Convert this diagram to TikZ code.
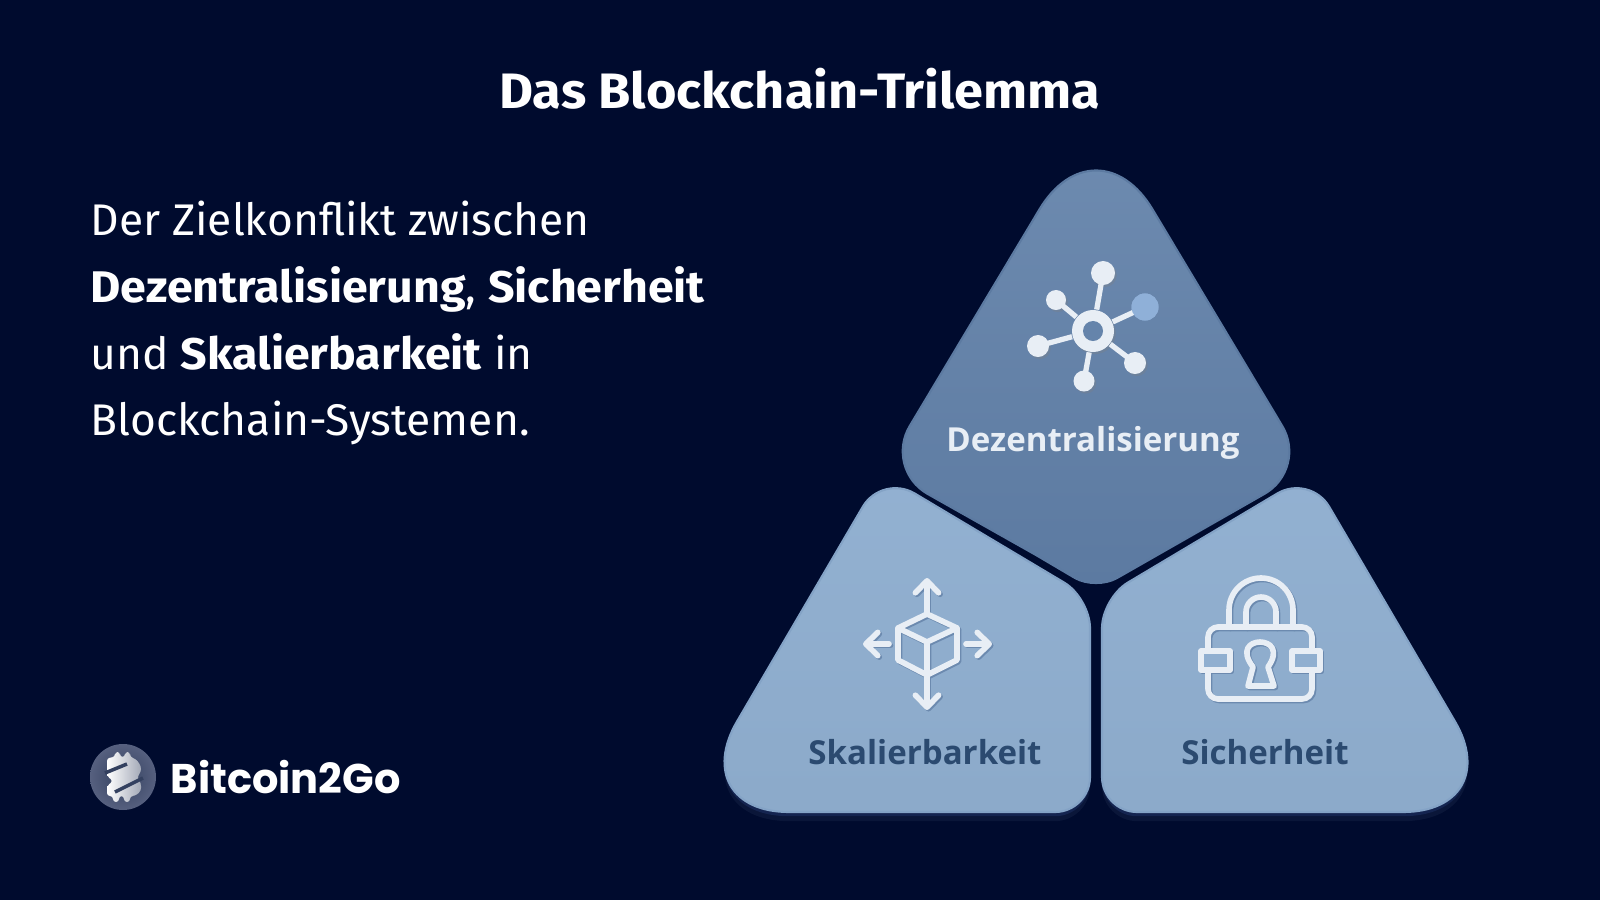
\documentclass[tikz,border=0pt]{standalone}
\usepackage{fontspec}
\usepackage{xcolor}
\setmainfont{Fira Sans}[BoldFeatures={FakeStretch=1.05}]
\newfontfamily\labelfont{Open Sans}
\newfontfamily\logofont{Poppins}
\usetikzlibrary{arrows.meta,calc,shadows}
\definecolor{pagebg}{HTML}{000B2E}
\definecolor{topface}{HTML}{6584AB}
\definecolor{topedge}{HTML}{5C7AA1}
\definecolor{lowface}{HTML}{90AFD0}
\definecolor{lowedge}{HTML}{84A3C6}
\definecolor{iconwhite}{HTML}{E8EEF5}
\definecolor{hublue}{HTML}{8FB0D8}
\definecolor{labeldark}{HTML}{2B4A70}
\definecolor{logoinner}{HTML}{33405F}
\definecolor{logoouter}{HTML}{56607F}
\definecolor{tileglow}{HTML}{0A1639}
\definecolor{tileglowB}{HTML}{142450}
% one soft corner: previous point, vertex, next point, tangent length
\newcommand{\softcorner}[4]{-- ($(#2)!#4!(#1)$) .. controls ($(#2)!#4*0.45!(#1)$) and ($(#2)!#4*0.45!(#3)$) .. ($(#2)!#4!(#3)$) }
\tikzset{
	toptile/.style={draw=topedge,line width=0.6pt,top color=topface!95!white,bottom color=topedge},
	lowtile/.style={draw=lowedge,line width=0.6pt,top color=lowface!98!white,bottom color=lowface!97!black,
		preaction={transform canvas={yshift=-2.6pt},fill=tileglow},
		preaction={transform canvas={yshift=-1.2pt},fill=tileglowB}},
	textline/.style={anchor=base west,font=\fontsize{12.6}{15}\selectfont,text=white,inner sep=0pt},
	tilelabel/.style={font=\fontsize{9.4}{12}\selectfont\labelfont\bfseries},
	netdot/.style={circle,fill=iconwhite,inner sep=0pt,drop shadow={shadow xshift=0.5pt,shadow yshift=-0.6pt,opacity=0.3}},
	netline/.style={draw=iconwhite,line width=1.5pt,shorten >=-1pt},
	iconline/.style={line width=1.6pt,line cap=round,line join=round},
	barb/.style={-{Straight Barb[length=3.4pt,width=6.6pt,round]}}
}
\begin{document}
\begin{tikzpicture}[x=0.01cm,y=-0.01cm]
	\useasboundingbox (0,0) rectangle (1600,900);
	\fill[pagebg] (0,0) rectangle (1600,900);
	% tile corners
	\coordinate (ta) at (1096,115);
	\coordinate (tl) at (884,469);
	\coordinate (tr) at (1308,469);
	\coordinate (tb) at (1096,590);
	\coordinate (la) at (882,474);
	\coordinate (lc) at (1090,598);
	\coordinate (ld) at (1090,812);
	\coordinate (lb) at (684,812);
	\coordinate (ra) at (1310,474);
	\coordinate (rc) at (1102,598);
	\coordinate (rd) at (1102,812);
	\coordinate (rb) at (1508,812);
	% tiles
	\draw[toptile] (1036,555) \softcorner{tb}{tl}{ta}{0.5cm} \softcorner{tl}{ta}{tr}{1.1cm} \softcorner{ta}{tr}{tb}{0.5cm} \softcorner{tr}{tb}{tl}{0.24cm} -- cycle;
	\draw[lowtile] (900,812) \softcorner{ld}{lb}{la}{1.05cm} \softcorner{lb}{la}{lc}{0.38cm} \softcorner{la}{lc}{ld}{0.3cm} \softcorner{lc}{ld}{lb}{0.35cm} -- cycle;
	\draw[lowtile] (1300,812) \softcorner{rd}{rb}{ra}{1.05cm} \softcorner{rb}{ra}{rc}{0.38cm} \softcorner{ra}{rc}{rd}{0.3cm} \softcorner{rc}{rd}{rb}{0.35cm} -- cycle;
	% heading and text
	\node[font=\fontsize{14.15}{16}\selectfont\bfseries,text=white] (heading) at (800,89) {Das Blockchain-Trilemma};
	\node[textline] (line1) at (90,235) {Der Zielkonflikt zwischen};
	\node[textline] (line2) at (90,302) {\textbf{Dezentralisierung}, \textbf{Sicherheit}};
	\node[textline] (line3) at (90,369) {und \textbf{Skalierbarkeit} in};
	\node[textline] (line4) at (90,435) {Blockchain-Systemen.};
	% tile labels
	\node[tilelabel,text=iconwhite] (dezlabel) at (1093,443) {Dezentralisierung};
	\node[tilelabel,text=labeldark] (skalabel) at (925,752) {Skalierbarkeit};
	\node[tilelabel,text=labeldark] (siclabel) at (1265,752) {Sicherheit};
	% network icon
	\node[netdot,minimum size=0.42cm] (hub) at (1093,331) {};
	\node[netdot,minimum size=0.24cm] (n1) at (1103,273) {};
	\node[netdot,minimum size=0.2cm] (n2) at (1056,300) {};
	\node[netdot,minimum size=0.22cm] (n3) at (1038,346) {};
	\node[netdot,minimum size=0.21cm] (n4) at (1084,381) {};
	\node[netdot,minimum size=0.22cm] (n5) at (1135,363) {};
	\node[circle,fill=hublue,inner sep=0pt,minimum size=0.27cm] (n6) at (1145,307) {};
	\foreach \n in {n1,n2,n3,n4,n5,n6}
		\draw[netline] (hub) -- (\n);
	\node[circle,fill=hublue,inner sep=0pt,minimum size=0.27cm] at (n6) {};
	\node[circle,fill=topface,inner sep=0pt,minimum size=0.2cm] (hole) at (hub) {};
	% cube icon
	\foreach \col/\off in {topedge!70!lowface/1.5,iconwhite/0} {
		\begin{scope}[shift={(\off,\off)},iconline,draw=\col]
			\draw (927,614) -- (957,628) -- (957,660) -- (927,675) -- (898,660) -- (898,628) -- cycle;
			\draw (898,628) -- (927,642) -- (957,628) (927,642) -- (927,675);
			\draw[barb] (927,612) -- (927,578);
			\draw[barb] (927,677) -- (927,710);
			\draw[barb] (889,644) -- (863,644);
			\draw[barb] (966,644) -- (992,644);
		\end{scope}
	}
	% lock icon
	\foreach \col/\off in {topedge!70!lowface/1.5,iconwhite/0} {
		\begin{scope}[shift={(\off,\off)},iconline,draw=\col]
			\draw (1229,627) -- (1229,610) arc[start angle=180,end angle=360,radius=32] -- (1293,627);
			\draw (1246,627) -- (1246,612) arc[start angle=180,end angle=360,radius=15] -- (1276,627);
			\draw[rounded corners=0.1cm] (1208,627) rectangle (1312,699);
			\draw[fill=lowface] (1201,651) rectangle (1230,670);
			\draw[fill=lowface] (1292,651) rectangle (1320,670);
			\draw (1253,667) .. controls (1240,650) and (1250,642) .. (1260,642) .. controls (1270,642) and (1280,650) .. (1268,667) -- (1274,686) -- (1248,686) -- cycle;
		\end{scope}
	}
	% logo
	\shade[inner color=logoinner,outer color=logoouter] (123,777) circle (33);
	\shade[left color=white,right color=white!55!logoinner,rounded corners=0.03cm] (107,758) -- (115,757) -- (115,752) -- (120,752) -- (120,757) -- (125,757) -- (125,752) -- (130,752) -- (130,757) -- (136,759) -- (141,766) -- (141,772) -- (137,777) -- (141,783) -- (141,791) -- (135,796) -- (130,796) -- (130,802) -- (124,802) -- (124,796) -- (119,796) -- (119,802) -- (113,802) -- (113,796) -- (107,796) -- (107,786) -- (113,781) -- (107,776) -- cycle;
	\draw[logoinner,line width=1pt] (105,773) -- (127,764);
	\draw[logoinner,line width=1pt] (143,778) -- (115,792);
	\node[anchor=west,font=\fontsize{11.8}{14}\selectfont\logofont\bfseries,text=white,inner sep=0pt] (brand) at (170,777) {Bitcoin2Go};
\end{tikzpicture}
\end{document}
